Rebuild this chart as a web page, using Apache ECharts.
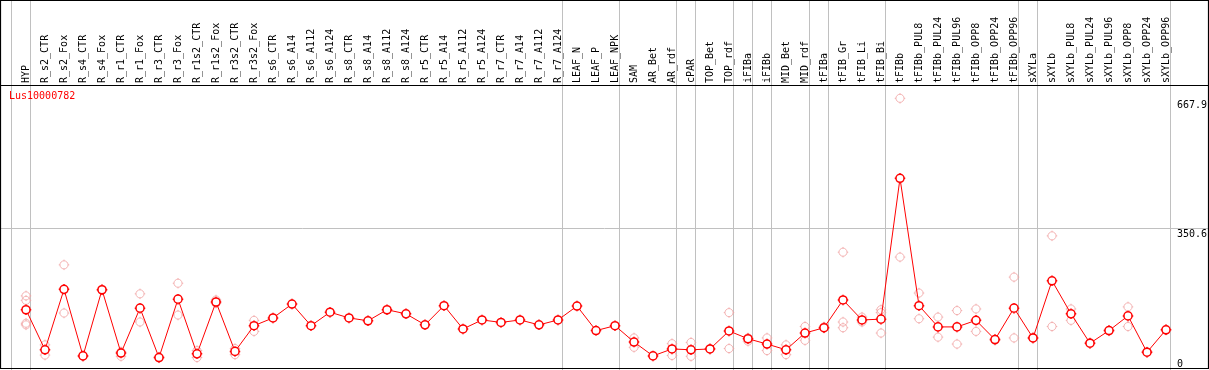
<!DOCTYPE html>
<html><head><meta charset="utf-8">
<script src="https://cdn.jsdelivr.net/npm/echarts@6/dist/echarts.min.js"></script>
<style>html,body{margin:0;padding:0;background:#fff}#c{width:1209px;height:370px}</style>
</head><body><div id="c"></div>
<script>
const geneName = 'Lus10000782';
const categories = ['HYP','R_s2_CTR','R_s2_Fox','R_s4_CTR','R_s4_Fox','R_r1_CTR','R_r1_Fox','R_r3_CTR','R_r3_Fox','R_r1s2_CTR','R_r1s2_Fox','R_r3s2_CTR','R_r3s2_Fox','R_s6_CTR','R_s6_A14','R_s6_A112','R_s6_A124','R_s8_CTR','R_s8_A14','R_s8_A112','R_s8_A124','R_r5_CTR','R_r5_A14','R_r5_A112','R_r5_A124','R_r7_CTR','R_r7_A14','R_r7_A112','R_r7_A124','LEAF_N','LEAF_P','LEAF_NPK','SAM','AR_Bet','AR_rdf','cPAR','TOP_Bet','TOP_rdf','iFIBa','iFIBb','MID_Bet','MID_rdf','tFIBa','tFIB_Gr','tFIB_Li','tFIB_Bi','tFIBb','tFIBb_PUL8','tFIBb_PUL24','tFIBb_PUL96','tFIBb_OPP8','tFIBb_OPP24','tFIBb_OPP96','sXYLa','sXYLb','sXYLb_PUL8','sXYLb_PUL24','sXYLb_PUL96','sXYLb_OPP8','sXYLb_OPP24','sXYLb_OPP96'];
const means = [150,52,200,37,199,44,154,33,176,42,169,48,111,130,164,111,144,130,123,150,140,113,160,103,125,119,125,113,125,159,99,111,71,37,54,52,54,98,79,66,52,93,106,174,125,127,472,160,108,108,124,77,154,81,221,140,68,99,135,46,101];
const rep1 = [184,64,260,38,200,47,189,34,215,50,174,55,124,null,null,null,null,null,null,null,null,null,null,null,null,null,null,null,null,null,null,null,81,null,67,70,55,143,81,81,64,109,108,291,132,150,667.9,191,132,148,152,78,230,82,331,152,70,100,157,47,102];
const rep2 = [173,39,142,36,198,36,120,32,137,33,166,40,97,null,null,null,null,null,null,null,null,null,null,null,null,null,null,null,null,null,null,null,58,null,38,36,54,55,73,50,40,75,105,120,120,143,279,128,83,66,97,75,81,80,109,124,67,98,109,46,100];
const rep3 = [117,null,null,null,null,null,null,null,null,null,null,null,null,null,null,null,null,null,null,null,null,null,null,null,null,null,null,null,null,null,null,null,null,null,null,null,null,null,null,null,null,null,null,106,null,93,null,null,null,null,null,null,null,null,null,null,null,null,null,null,null];
const rep4 = [113,null,null,null,null,null,null,null,null,null,null,null,null,null,null,null,null,null,null,null,null,null,null,null,null,null,null,null,null,null,null,null,null,null,null,null,null,null,null,null,null,null,null,null,null,null,null,null,null,null,null,null,null,null,null,null,null,null,null,null,null];
const yTicks = [0, 350.6, 667.9];
const yTickLabels = ['0', '350.6', '667.9'];
const groupStarts = [0,1,29,32,35,36,38,39,40,42,43,46,53,54,61];

const FONT = 'DejaVu Sans Mono';
const SYM = 'path://M0,-4C2.209,-4,4,-2.209,4,0C4,2.209,2.209,4,0,4C-2.209,4,-4,2.209,-4,0C-4,-2.209,-2.209,-4,0,-4ZM0,-5.2L0,-4M0,4L0,5.2M-5.2,0L-4,0M4,0L5.2,0';
const W = 1209, X0 = 26, STEP = 19;
const xMin = -X0 / STEP, xMax = (W - X0) / STEP;
const yMax = 908.7;

const repPoints = [];
[rep1, rep2, rep3, rep4].forEach(r => r.forEach((v, i) => { if (v != null) repPoints.push([i, v]); }));

const chart = echarts.init(document.getElementById('c'));
chart.setOption({
  animation: false,
  title: { text: geneName, left: 9, top: 91, padding: 0,
    textStyle: { color: '#ff0000', fontFamily: FONT, fontSize: 10, fontWeight: 'normal' } },
  grid: [
    { left: 0, right: 0, top: 0, bottom: -1, containLabel: false, outerBoundsMode: 'none' },
    { left: X0, right: W - X0 - STEP * (categories.length - 1), top: 0, height: 85, containLabel: false, outerBoundsMode: 'none' }
  ],
  xAxis: [
    { type: 'value', gridIndex: 0, min: xMin, max: xMax, show: false },
    { type: 'category', gridIndex: 1, data: categories, boundaryGap: false, position: 'bottom',
      axisLine: { show: false }, axisTick: { show: false }, splitLine: { show: false },
      axisLabel: { inside: true, rotate: 90, margin: 2, interval: 0, fontFamily: FONT, fontSize: 10, color: '#000' } }
  ],
  yAxis: [
    { type: 'value', gridIndex: 0, min: 0, max: yMax, position: 'right',
      axisLine: { show: false }, axisTick: { show: false }, splitLine: { show: false },
      axisLabel: { inside: true, margin: 32, align: 'left', customValues: yTicks, fontFamily: FONT, fontSize: 10, color: '#000',
        lineHeight: 14, verticalAlign: 'middle',
        formatter: v => {
          const k = yTicks.findIndex(t => Math.abs(t - v) < 1e-6);
          const s = k >= 0 ? yTickLabels[k] : String(v);
          return k === 0 ? s + '\n ' : ' \n' + s;
        } } },
    { type: 'value', gridIndex: 1, show: false }
  ],
  graphic: [
    { type: 'rect', silent: true, z: 100, shape: { x: 0.5, y: 0.5, width: 1208, height: 368 },
      style: { fill: 'none', stroke: '#000', lineWidth: 1.2 } },
    { type: 'line', silent: true, z: 100, shape: { x1: 0, y1: 85.5, x2: W, y2: 85.5 },
      style: { stroke: '#000', lineWidth: 1.2 } }
  ],
  series: [
    { type: 'line', xAxisIndex: 0, yAxisIndex: 0, data: [], silent: true, z: 0,
      markLine: { silent: true, symbol: ['none', 'none'], z: 0, label: { show: false },
        emphasis: { disabled: true },
        lineStyle: { color: '#c0c0c0', width: 1, type: 'solid' },
        data: [...groupStarts.map(s => ({ xAxis: s - 0.78 })), { yAxis: yTicks[1] }] } },
    { type: 'scatter', xAxisIndex: 0, yAxisIndex: 0, data: repPoints, symbol: SYM, symbolSize: 10.5,
      silent: true, z: 3,
      itemStyle: { color: 'rgba(0,0,0,0)', borderColor: '#f0a0a0', borderWidth: 1 } },
    { type: 'line', xAxisIndex: 0, yAxisIndex: 0, data: means.map((v, i) => [i, v]), symbol: SYM, symbolSize: 10.5,
      showAllSymbol: true, silent: true, z: 4,
      lineStyle: { color: '#ff0000', width: 1 },
      itemStyle: { color: '#ffffff', borderColor: '#ff0000', borderWidth: 1.5 } }
  ]
});
</script>
</body></html>
